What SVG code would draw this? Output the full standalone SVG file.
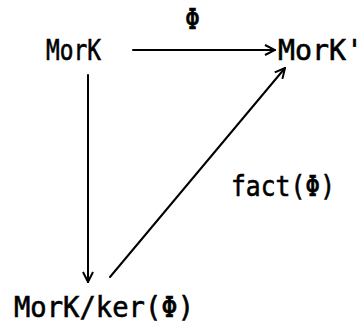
<svg xmlns="http://www.w3.org/2000/svg" width="363" height="326" viewBox="0 0 363 326">
<style>
text{font-family:"DejaVu Sans Mono","Liberation Mono",monospace;font-size:28px;fill:#000;stroke:#000;stroke-width:0.6}
.c{stroke:#000;stroke-width:2;fill:none;stroke-linecap:round}
</style>
<defs>
<marker id="a" viewBox="0 0 12 12" refX="11" refY="6" markerWidth="12" markerHeight="12" markerUnits="userSpaceOnUse" orient="auto">
<path d="M1,1 L11,6 L1,11" fill="none" stroke="#000" stroke-width="2"/>
</marker>
</defs>
<rect width="363" height="326" fill="#fff"/>
<g id="connectors">
<line class="c" x1="133" y1="50" x2="275" y2="50" marker-end="url(#a)"/>
<line class="c" x1="88" y1="75" x2="88" y2="282" marker-end="url(#a)"/>
<line class="c" x1="110" y1="277" x2="285" y2="68" marker-end="url(#a)"/>
</g>
<g id="lbl-phi"><text x="185" y="29" textLength="15" lengthAdjust="spacingAndGlyphs">Φ</text></g>
<g id="n-mork"><text x="46" y="60" textLength="55" lengthAdjust="spacingAndGlyphs">MorK</text></g>
<g id="n-mork2"><text x="278" y="60" textLength="85" lengthAdjust="spacingAndGlyphs">MorK'</text></g>
<g id="lbl-fact"><text x="231" y="196" textLength="104" lengthAdjust="spacingAndGlyphs">fact(Φ)</text></g>
<g id="n-quot"><text x="14" y="317" textLength="180" lengthAdjust="spacingAndGlyphs">MorK/ker(Φ)</text></g>
</svg>
